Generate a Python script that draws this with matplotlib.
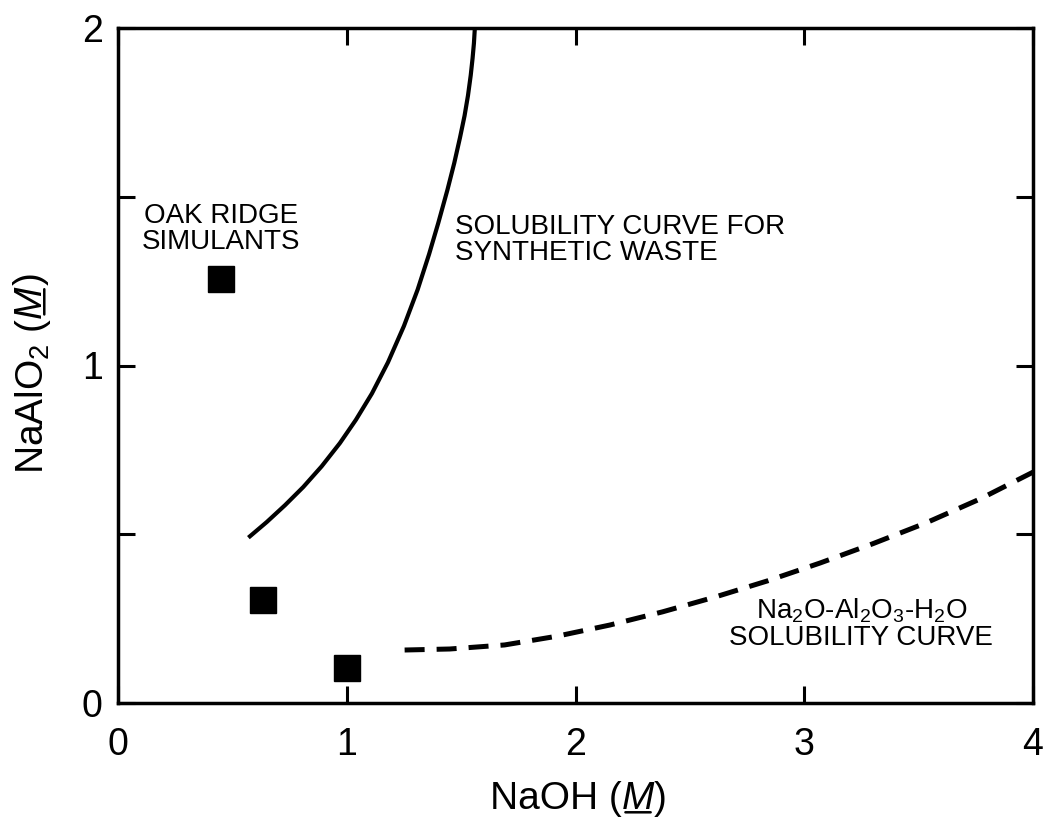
import matplotlib
matplotlib.use("Agg")
import matplotlib.pyplot as plt

# ── data ──
# Oak Ridge simulants (squares)
sim_naoh = [0.45, 0.634, 1.0]
sim_naalo2 = [1.256, 0.305, 0.104]

# solubility curve for synthetic waste (solid)
syn_naoh = [0.570, 0.65, 0.73, 0.81, 0.89, 0.97, 1.04, 1.11, 1.18, 1.25, 1.31,
            1.36, 1.40, 1.44, 1.47, 1.495, 1.515, 1.53, 1.542, 1.55, 1.556, 1.56]
syn_naalo2 = [0.490, 0.536, 0.586, 0.640, 0.701, 0.770, 0.839, 0.917, 1.009, 1.117, 1.225,
              1.33, 1.422, 1.52, 1.60, 1.675, 1.74, 1.80, 1.86, 1.91, 1.955, 2.0]

# Na2O-Al2O3-H2O solubility curve (dashed)
sys_naoh = [1.253, 1.45, 1.69, 1.92, 2.15, 2.38, 2.61, 2.84, 3.07, 3.30, 3.53, 3.77, 4.00]
sys_naalo2 = [0.157, 0.160, 0.172, 0.198, 0.231, 0.270, 0.314, 0.362, 0.415, 0.472, 0.533, 0.605, 0.684]

x_ticks = [0, 1, 2, 3, 4]
y_ticks = [0, 0.5, 1, 1.5, 2]
y_ticklabels = ["0", "", "1", "", "2"]

plt.rcParams["font.family"] = ["Liberation Sans", "DejaVu Sans"]
plt.rcParams["mathtext.fontset"] = "custom"
plt.rcParams["mathtext.rm"] = "Liberation Sans"
plt.rcParams["mathtext.it"] = "Liberation Sans:italic"

fig = plt.figure(figsize=(10.46, 8.19), dpi=100)
ax = fig.add_axes([118 / 1046, 1 - 703 / 819, 915 / 1046, 675 / 819])

ax.plot(syn_naoh, syn_naalo2, color="black", lw=3.0, solid_capstyle="butt",
        solid_joinstyle="round")
ax.plot(sys_naoh, sys_naalo2, color="black", lw=3.6, dashes=(4, 2.4))
ax.plot(sim_naoh, sim_naalo2, ls="none", marker="s", ms=19, color="black")

ax.set_xlim(0, 4)
ax.set_ylim(0, 2)
ax.set_xticks(x_ticks)
ax.set_xticklabels([str(v) for v in x_ticks])
ax.set_yticks(y_ticks)
ax.set_yticklabels(y_ticklabels)
ax.tick_params(direction="in", length=12, width=2.2, top=True, right=True,
               labelsize=27, color="black")
ax.tick_params(axis="x", pad=17)
ax.tick_params(axis="y", pad=11)
for s in ax.spines.values():
    s.set_linewidth(2.5)

# annotations
ax.text(0.45, 1.404, "OAK RIDGE\nSIMULANTS", fontsize=20, ha="center",
        va="center", multialignment="center", linespacing=1.0)
ax.text(1.472, 1.372, "SOLUBILITY CURVE FOR\nSYNTHETIC WASTE", fontsize=20,
        ha="left", va="center", multialignment="left", linespacing=1.0)
ax.text(3.249, 0.234, "Na$_2$O-Al$_2$O$_3$-H$_2$O\nSOLUBILITY CURVE", fontsize=20,
        ha="center", va="center", multialignment="center", linespacing=1.0)

# x label: NaOH (M) with underlined italic M
LAB = 28
mx = ax.text(0.568, -0.157, "M", fontsize=LAB, style="italic", ha="center",
             va="baseline", transform=ax.transAxes)
ax.annotate("NaOH (", xy=(0, 0), xycoords=mx, ha="right", va="bottom", fontsize=LAB)
ax.annotate(")", xy=(1, 0), xycoords=mx, ha="left", va="bottom", fontsize=LAB)
ax.annotate("", xy=(0.12, 0.13), xycoords=mx, xytext=(0.9, 0.13), textcoords=mx,
            arrowprops=dict(arrowstyle="-", lw=1.8, shrinkA=0, shrinkB=0))

# y label: NaAlO2 (M), rotated
my = ax.text(-0.1148, 0.5948, "M", fontsize=LAB, style="italic", rotation=90,
             ha="left", va="center", transform=ax.transAxes)
ax.annotate("NaAlO$_2$ (", xy=(0, 0), xycoords=my, rotation=90, ha="left",
            va="top", fontsize=LAB)
ax.annotate(")", xy=(0, 1), xycoords=my, rotation=90, ha="left", va="bottom",
            fontsize=LAB)
ax.annotate("", xy=(0.87, 0.1), xycoords=my, xytext=(0.87, 0.88), textcoords=my,
            arrowprops=dict(arrowstyle="-", lw=1.8, shrinkA=0, shrinkB=0))

fig.savefig("out.png", dpi=100)
